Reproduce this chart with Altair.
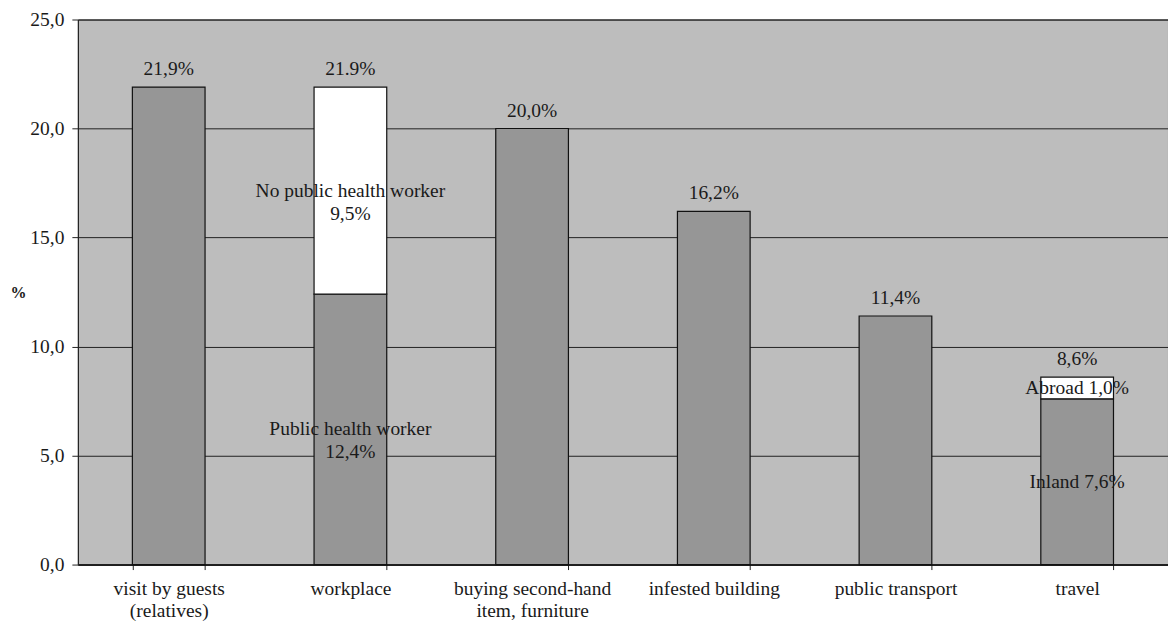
import altair as alt
import pandas as pd

# Categories (multi-line axis labels use "\n")
categories = [
    "visit by guests\n(relatives)",
    "workplace",
    "buying second-hand\nitem, furniture",
    "infested building",
    "public transport",
    "travel",
]

# Bar totals and their printed labels
totals = [21.9, 21.9, 20.0, 16.2, 11.4, 8.6]
total_labels = ["21,9%", "21.9%", "20,0%", "16,2%", "11,4%", "8,6%"]

# Stacked segments: category, lower part, upper part
seg_category = categories[1], categories[5]
seg_lower = [12.4, 7.6]
seg_upper = [9.5, 1.0]
seg_lower_labels = ["Public health worker\n12,4%", "Inland 7,6%"]
seg_upper_labels = ["No public health worker\n9,5%", "Abroad 1,0%"]

# Build bar segment table
rows = []
for cat, tot in zip(categories, totals):
    if cat in seg_category:
        i = seg_category.index(cat)
        lo, up = seg_lower[i], seg_upper[i]
        rows.append(dict(cat=cat, part="base", start=0.0, end=lo,
                         text=seg_lower_labels[i]))
        rows.append(dict(cat=cat, part="top", start=lo, end=lo + up,
                         text=seg_upper_labels[i]))
    else:
        rows.append(dict(cat=cat, part="base", start=0.0, end=tot, text=""))
segments = pd.DataFrame(rows)
segments["mid"] = (segments["start"] + segments["end"]) / 2

tot_df = pd.DataFrame({"cat": categories, "total": totals, "label": total_labels})

FONT = "Liberation Serif"
TEXT = "#1a1a1a"
FS = 19.5

x_enc = alt.X(
    "cat:N",
    sort=categories,
    scale=alt.Scale(paddingInner=0.6, paddingOuter=0.3),
    axis=alt.Axis(
        title=None,
        labelAngle=0,
        labelExpr="isValid(datum.value) ? split(datum.value, '\\n') : ''",
        labelFont=FONT,
        labelFontSize=FS,
        labelColor=TEXT,
        labelLineHeight=22,
        labelPadding=10,
        labelBaseline="top",
        tickBand="extent",
        tickSize=5,
        tickColor="#222222",
        domainColor="#111111",
        domainWidth=1.5,
    ),
)

y_scale = alt.Scale(domain=[0, 25], nice=False)

bars = alt.Chart(segments).mark_bar(stroke="#111111", strokeWidth=1.2).encode(
    x=x_enc,
    y=alt.Y(
        "start:Q",
        scale=y_scale,
        axis=alt.Axis(
            values=[0, 5, 10, 15, 20, 25],
            labelExpr="replace(format(datum.value, '.1f'), '.', ',')",
            labelFont=FONT,
            labelFontSize=FS,
            labelColor=TEXT,
            labelPadding=8,
            tickSize=6,
            tickColor="#222222",
            domainColor="#222222",
            grid=True,
            gridColor="#222222",
            gridWidth=1,
            title="%",
            titleAngle=0,
            titleFont=FONT,
            titleFontSize=16,
            titleFontWeight="bold",
            titleColor=TEXT,
            titleX=-60,
            titleY=273,
            titleAlign="center",
            titleBaseline="middle",
        ),
    ),
    y2="end:Q",
    color=alt.Color(
        "part:N",
        scale=alt.Scale(domain=["base", "top"], range=["#969696", "#ffffff"]),
        legend=None,
    ),
)

seg_text = alt.Chart(segments).transform_filter("datum.text != ''").mark_text(
    font=FONT, fontSize=FS, color=TEXT, baseline="middle", align="center",
    lineBreak="\n", lineHeight=23,
).encode(
    x=alt.X("cat:N", sort=categories),
    y=alt.Y("mid:Q", scale=y_scale),
    text="text:N",
)

tot_text = alt.Chart(tot_df).mark_text(
    font=FONT, fontSize=FS, color=TEXT, baseline="middle", align="center", dy=-18,
).encode(
    x=alt.X("cat:N", sort=categories),
    y=alt.Y("total:Q", scale=y_scale),
    text="label:N",
)

chart = alt.layer(bars, seg_text, tot_text).properties(
    width=1092,
    height=546,
    autosize=alt.AutoSizeParams(type="none"),
    padding={"left": 78, "top": 19, "right": 0, "bottom": 60},
    background="#ffffff",
).configure_view(
    fill="#bdbdbd",
    stroke="#222222",
    strokeWidth=1,
)

chart.save("out.html", embed_options={"renderer": "svg", "actions": False})
